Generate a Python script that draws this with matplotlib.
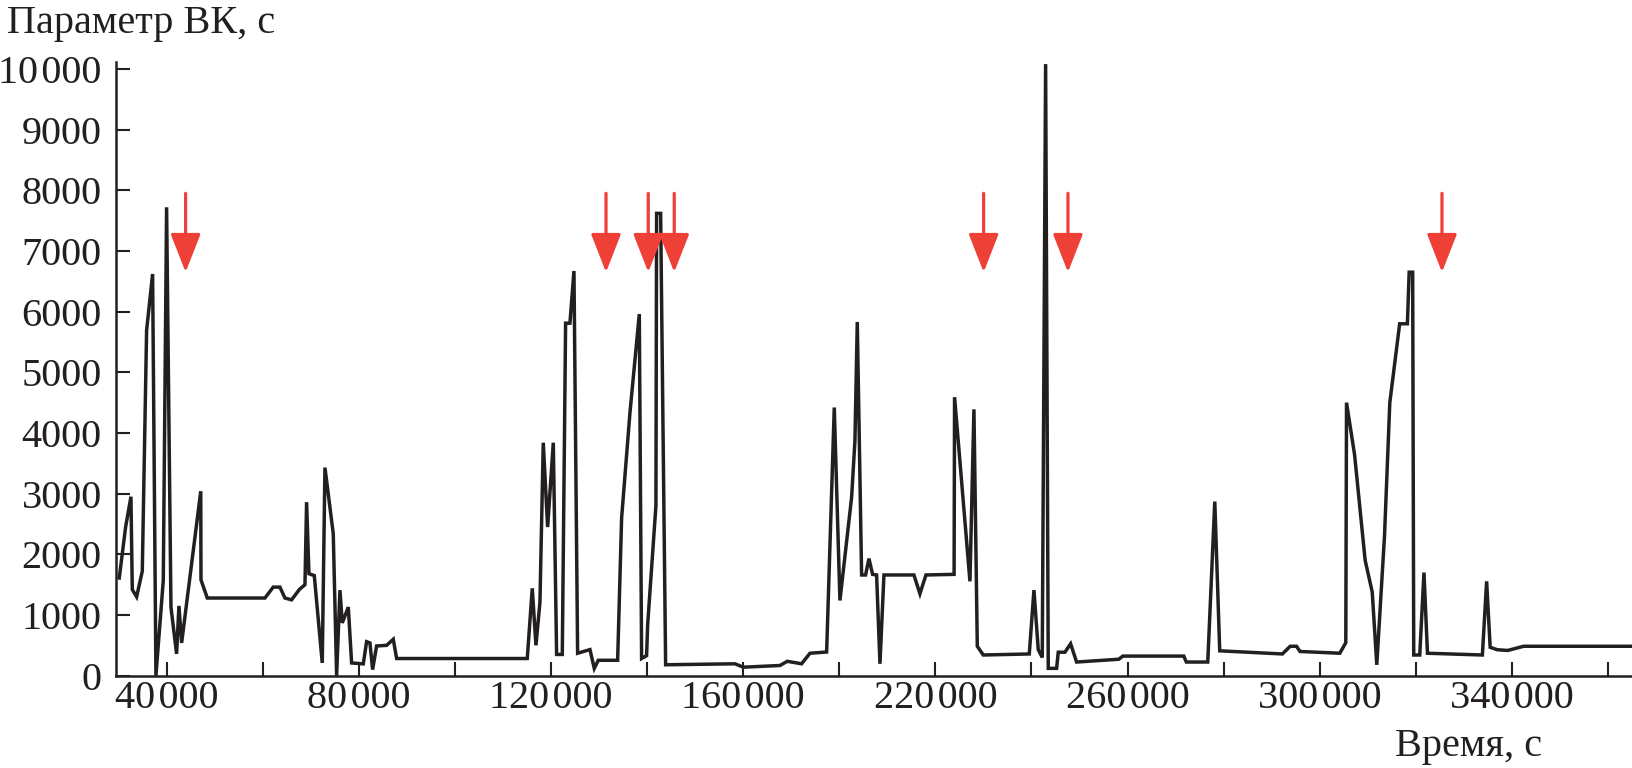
import matplotlib
matplotlib.use("Agg")
import matplotlib.pyplot as plt

plt.rcParams['font.family'] = ['Liberation Serif', 'DejaVu Serif']

# BK parameter vs time
t = [30140, 31460, 32570, 32850, 33750, 34930, 35830, 37080, 37770, 39300,
     39990, 40900, 42070, 42560, 43120, 47100, 47150, 48460, 60460, 62190,
     63580, 64620, 66010, 67610, 68790, 69130, 69620, 70730, 72390, 72950,
     74680, 75380, 76070, 76560, 77810, 78500, 80930, 81620, 82320, 82870,
     83700, 85790, 87170, 87870, 115060, 116100, 116870, 117700, 118390, 119300,
     120480, 121170, 122350, 123040, 123940, 124780, 125540, 128110, 129010, 129840,
     133870, 134700, 136430, 138380, 138860, 139900, 140110, 141840, 141980, 142820,
     143860, 158290, 160020, 167650, 169180, 172160, 173900, 177370, 178960, 180140,
     182570, 183260, 183750, 184650, 185480, 186180, 186940, 187770, 188470, 189300,
     195540, 196790, 198040, 203900, 204000, 207200, 208030, 208730, 209970, 219550,
     220520, 221420, 222250, 222950, 223500, 225240, 225580, 226970, 228150, 229400,
     238160, 239030, 251710, 252230, 256700, 258160, 259190, 272240, 273850, 275170,
     275900, 284180, 285430, 285580, 287260, 289460, 290930, 291880, 293490, 294590,
     296640, 298250, 298620, 299350, 299570, 300820, 301700, 302430, 313860, 314740,
     315480, 316940, 319140, 322440, 345000]
bk = [1610, 2450, 2950, 1420, 1300, 1720, 5690, 6620, 0, 1570,
      7720, 1130, 360, 1150, 540, 3040, 1580, 1280, 1280, 1460,
      1460, 1280, 1250, 1420, 1500, 2860, 1680, 1650, 210, 3430,
      2340, 0, 1410, 870, 1130, 210, 195, 560, 540, 100,
      490, 500, 600, 283, 283, 1440, 500, 1210, 3840, 2450,
      3840, 350, 350, 5810, 5810, 6670, 370, 430, 120, 254,
      254, 2600, 4330, 5960, 283, 330, 830, 2800, 7620, 7620,
      180, 196, 140, 168, 237, 196, 370, 390, 4420, 1240,
      2940, 3870, 5830, 1660, 1660, 1930, 1670, 1660, 196, 1660,
      1660, 1350, 1660, 1670, 4590, 1555, 4390, 485, 341, 358,
      1410, 428, 300, 10080, 121, 121, 387, 387, 526, 225,
      271, 323, 323, 225, 225, 2870, 410, 358, 485, 485,
      399, 370, 543, 4500, 3640, 1900, 1380, 179, 2310, 4500,
      5800, 5800, 6650, 6650, 341, 341, 1700, 370, 341, 1555,
      468, 428, 416, 485, 485]

# red arrows (marked events)
arrow_t = [43950, 131450, 140250, 145650, 210050, 227600, 305450]
arrow_top = 7950
arrow_tip = 6650

# tick labels as printed
xtick_pos = [40000, 80000, 120000, 160000, 200000, 240000, 280000, 320000]
xtick_lab = ['40\u200a000', '80\u200a000', '120\u200a000', '160\u200a000',
             '220\u200a000', '260\u200a000', '300\u200a000', '340\u200a000']
xminor_pos = [60000, 100000, 140000, 180000, 220000, 260000, 300000, 340000]
ytick_pos = list(range(0, 10001, 1000))
ytick_lab = ['0', '1000', '2000', '3000', '4000', '5000', '6000', '7000',
             '8000', '9000', '10\u200a000']

black = '#231f20'
red = '#ee4036'

fig = plt.figure(figsize=(16.32, 7.68), dpi=100)
ax = fig.add_axes([0.0709, 0.1202, 0.9291, 0.7995])

ax.plot(t, bk, color=black, lw=2.5, solid_joinstyle='miter')

for xa in arrow_t:
    ax.annotate('', xy=(xa, arrow_tip), xytext=(xa, arrow_top),
                arrowprops=dict(arrowstyle='-|>,head_length=1.2,head_width=0.47',
                                mutation_scale=20, color=red, lw=2.3,
                                shrinkA=0, shrinkB=0))

ax.set_xlim(29400, 345000)
ax.set_ylim(0, 10120)

ax.spines['top'].set_visible(False)
ax.spines['right'].set_visible(False)
for s in ['left', 'bottom']:
    ax.spines[s].set_linewidth(1.8)
    ax.spines[s].set_color(black)

ax.set_xticks(xtick_pos)
ax.set_xticklabels(xtick_lab)
ax.set_xticks(xminor_pos, minor=True)
ax.set_yticks(ytick_pos)
ax.set_yticklabels(ytick_lab)

ax.tick_params(axis='both', which='both', direction='in', length=10,
               width=1.5, color=black, labelcolor=black, labelsize=29)
ax.tick_params(axis='x', pad=3)
ax.tick_params(axis='y', pad=10)

fig.text(0.004, 0.993, 'Параметр ВК, с', fontsize=29, color=black,
         ha='left', va='top')
fig.text(0.8548, 0.015, 'Время, с', fontsize=29, color=black,
         ha='left', va='baseline')

fig.savefig('out.png', dpi=100)
